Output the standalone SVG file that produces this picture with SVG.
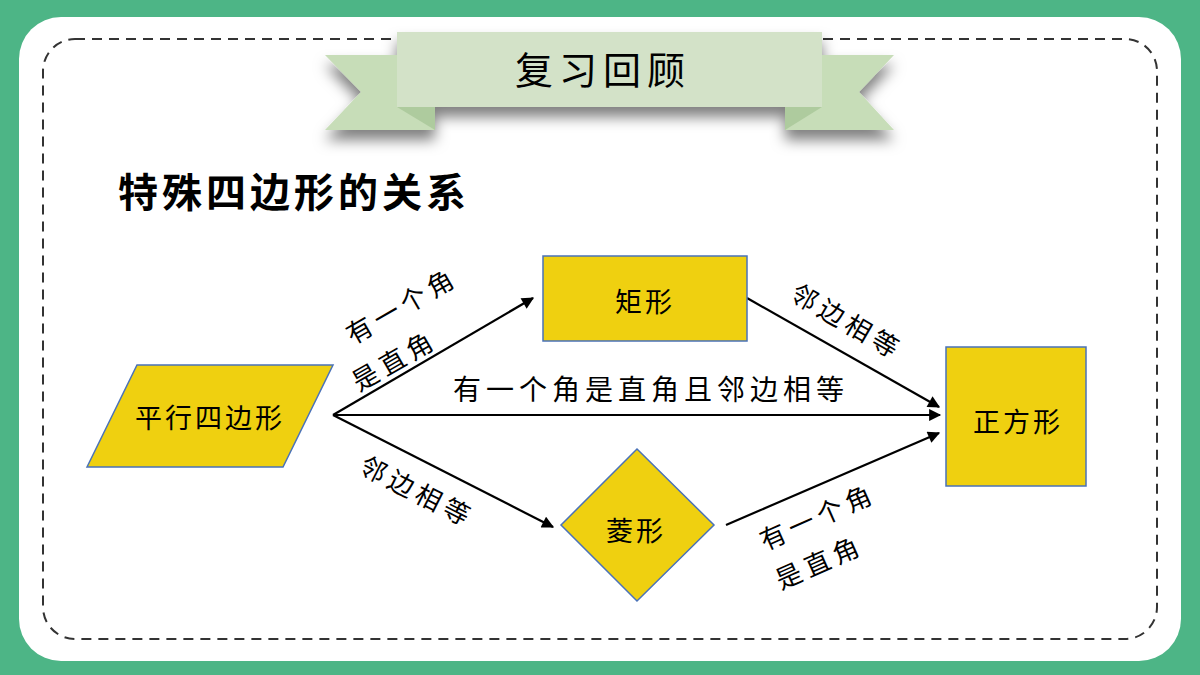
<svg xmlns="http://www.w3.org/2000/svg" width="1200" height="675" viewBox="0 0 1200 675">
<defs>
<style>
.node{fill:#EFD010;stroke:#4A72B8;stroke-width:1.5}
.cn{font-family:"Noto Sans CJK SC","Noto Sans",sans-serif;fill:#000}
.lbl{font-size:26px;letter-spacing:5px}
.nt{font-size:27px;letter-spacing:3px;text-anchor:middle;dominant-baseline:central}
.conn{stroke:#000;stroke-width:2.2;fill:none;marker-end:url(#ah)}
</style>
<marker id="ah" viewBox="0 0 10 10" refX="9" refY="5" markerWidth="6" markerHeight="5.5" markerUnits="strokeWidth" orient="auto">
<path d="M0,0 L10,5 L0,10 z" fill="#000"/>
</marker>
<filter id="sh" x="-20%" y="-30%" width="140%" height="180%">
<feDropShadow dx="0" dy="10" stdDeviation="7" flood-color="#000" flood-opacity="0.5"/>
</filter>
</defs>
<rect x="0" y="0" width="1200" height="675" fill="#4DB586"/>
<rect x="19" y="17" width="1162" height="644" rx="42" fill="#fff"/>
<rect x="43" y="39" width="1114" height="600" rx="32" fill="none" stroke="#333" stroke-width="2" stroke-dasharray="10 7"/>
<g id="banner">
<g filter="url(#sh)">
<polygon points="325,55 435,55 435,130 325,130 361,92" fill="#C7DDB8"/>
<polygon points="894,55 785,55 785,130 894,130 859,92" fill="#C7DDB8"/>
<rect x="397" y="32" width="425" height="75" fill="#D3E2C8"/>
</g>
<polygon points="397,107 435,107 435,130" fill="#AECB9E"/>
<polygon points="822,107 785,107 785,130" fill="#AECB9E"/>
<text x="603" y="67" class="cn" font-size="38" letter-spacing="6" text-anchor="middle" dominant-baseline="central">复习回顾</text>
</g>
<text x="118" y="207" class="cn" font-size="40" font-weight="bold" letter-spacing="4">特殊四边形的关系</text>
<g id="connectors">
<line class="conn" x1="333" y1="415" x2="533" y2="298"/>
<line class="conn" x1="333" y1="415" x2="940" y2="415"/>
<line class="conn" x1="333" y1="415" x2="553" y2="527"/>
<line class="conn" x1="747" y1="298" x2="939" y2="407"/>
<line class="conn" x1="726" y1="525" x2="939" y2="433"/>
<text class="cn lbl" text-anchor="middle" dominant-baseline="central" transform="translate(401,304) rotate(-30)">有一个角</text>
<text class="cn lbl" text-anchor="start" dominant-baseline="central" transform="translate(407,351) rotate(-30) translate(-62,0)">是直角</text>
<text class="cn" font-size="28" letter-spacing="5" text-anchor="middle" dominant-baseline="central" x="651" y="388">有一个角是直角且邻边相等</text>
<text class="cn lbl" text-anchor="middle" dominant-baseline="central" transform="translate(848,320) rotate(30)">邻边相等</text>
<text class="cn lbl" text-anchor="middle" dominant-baseline="central" transform="translate(418,490) rotate(27)">邻边相等</text>
<text class="cn lbl" text-anchor="middle" dominant-baseline="central" transform="translate(817,515) rotate(-24)">有一个角</text>
<text class="cn lbl" text-anchor="start" dominant-baseline="central" transform="translate(820,560) rotate(-24) translate(-48,0)">是直角</text>
</g>
<g id="parallelogram">
<polygon class="node" points="87,467 137,365 333,365 283,467"/>
<text class="cn nt" x="210" y="416">平行四边形</text>
</g>
<g id="rectangle">
<rect class="node" x="543" y="256" width="204" height="85"/>
<text class="cn nt" x="645" y="300">矩形</text>
</g>
<g id="rhombus">
<polygon class="node" points="637,449 714,525 637,601 561,525"/>
<text class="cn nt" x="636" y="529">菱形</text>
</g>
<g id="square">
<rect class="node" x="946" y="347" width="140" height="139"/>
<text class="cn nt" x="1018" y="420">正方形</text>
</g>
</svg>
